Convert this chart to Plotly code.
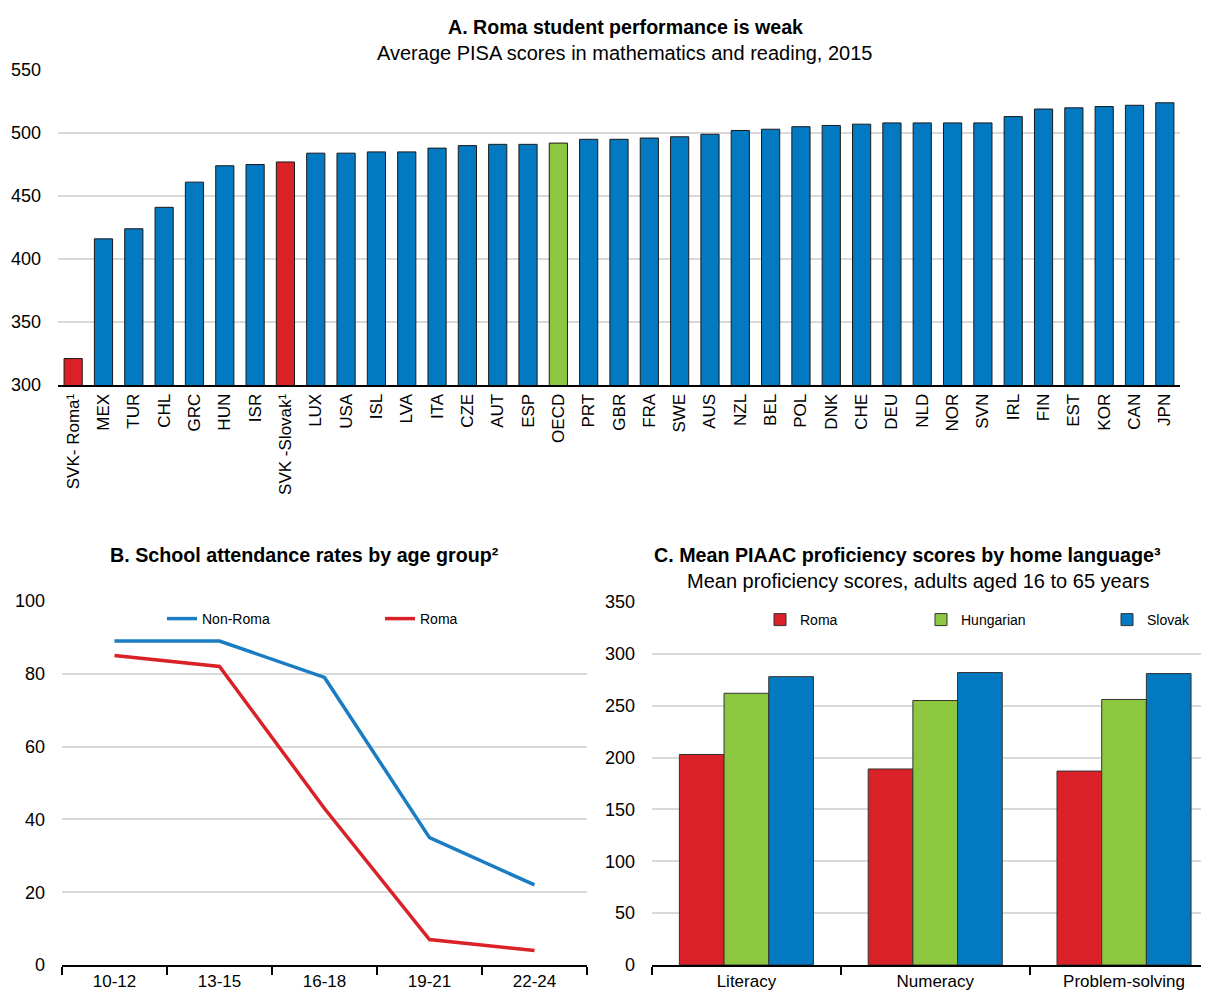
import plotly.graph_objects as go

# page body adds an 8px margin; lay out in reference pixel coords and shift
OFF = 8
W, H = 1209 - OFF, 992 - OFF
FONT = "Liberation Sans, Arial, sans-serif"

BLUE = "#0279C1"
RED = "#DA2128"
GREEN = "#8DC63F"
GRID = "#D9D9D9"

# Panel A
countries = ["SVK- Roma¹", "MEX", "TUR", "CHL", "GRC", "HUN", "ISR", "SVK -Slovak¹", "LUX", "USA",
             "ISL", "LVA", "ITA", "CZE", "AUT", "ESP", "OECD", "PRT", "GBR", "FRA", "SWE", "AUS",
             "NZL", "BEL", "POL", "DNK", "CHE", "DEU", "NLD", "NOR", "SVN", "IRL", "FIN", "EST",
             "KOR", "CAN", "JPN"]
pisa_scores = [321, 416, 424, 441, 461, 474, 475, 477, 484, 484,
               485, 485, 488, 490, 491, 491, 492, 495, 495, 496, 497, 499,
               502, 503, 505, 506, 507, 508, 508, 508, 508, 513, 519, 520,
               521, 522, 524]
pisa_colors = [RED if c.startswith("SVK") else GREEN if c == "OECD" else BLUE for c in countries]

# Panel B
age_groups = ["10-12", "13-15", "16-18", "19-21", "22-24"]
non_roma_att = [89, 89, 79, 35, 22]
roma_att = [85, 82, 43, 7, 4]

# Panel C
skills = ["Literacy", "Numeracy", "Problem-solving"]
piaac_roma = [203, 189, 187]
piaac_hungarian = [262, 255, 256]
piaac_slovak = [278, 282, 281]


def fx(a):
    return (a - OFF) / W


def fy(a):
    return 1 - (a - OFF) / H


def px_x(a, b):
    return [max(0.0, fx(a)), min(1.0, fx(b))]


def px_y(top, bottom):
    return [fy(bottom), fy(top)]


fig = go.Figure()

fig.add_trace(go.Bar(x=countries, y=pisa_scores, marker=dict(color=pisa_colors, line=dict(color="#1a1a1a", width=1)),
                     showlegend=False, xaxis="x", yaxis="y", width=0.6))

fig.add_trace(go.Scatter(x=age_groups, y=non_roma_att, mode="lines", name="Non-Roma",
                         line=dict(color="#1A7DC4", width=3.5), xaxis="x2", yaxis="y2", legend="legend"))
fig.add_trace(go.Scatter(x=age_groups, y=roma_att, mode="lines", name="Roma",
                         line=dict(color=RED, width=3.5), xaxis="x2", yaxis="y2", legend="legend2"))

for name, vals, col, lg in [("Roma", piaac_roma, RED, "legend3"), ("Hungarian", piaac_hungarian, GREEN, "legend4"),
                            ("Slovak", piaac_slovak, BLUE, "legend5")]:
    fig.add_trace(go.Bar(x=skills, y=vals, name=name, marker=dict(color=col, line=dict(color="#333333", width=1)),
                         xaxis="x3", yaxis="y3", legend=lg))

tickfont = dict(family=FONT, size=17, color="#000")
ytickfont = dict(family=FONT, size=18, color="#000")
common_y = dict(showgrid=True, gridcolor=GRID, gridwidth=2, zeroline=False, showline=False, ticks="",
                tickfont=ytickfont, ticklabelstandoff=16, automargin=False)
common_x = dict(showline=True, linecolor="#000", linewidth=2, automargin=False, type="category", showgrid=False)


def leg(xc, yc, iw=30):
    return dict(orientation="h", x=fx(xc), y=fy(yc), xanchor="left", yanchor="middle",
                font=dict(family=FONT, size=14, color="#000"), bgcolor="rgba(0,0,0,0)",
                itemwidth=iw, borderwidth=0)


fig.update_layout(
    width=W, height=H, margin=dict(l=0, r=0, t=0, b=0, autoexpand=False),
    paper_bgcolor="white", plot_bgcolor="white",
    font=dict(family=FONT, color="#000"),
    barmode="group", bargap=0.29, bargroupgap=0,
    xaxis=dict(domain=px_x(58, 1180), anchor="y", tickangle=-90, tickfont=tickfont, ticks="",
               range=[-0.5, len(countries) - 0.5], **common_x),
    yaxis=dict(domain=px_y(70, 385), anchor="x", range=[300, 550], dtick=50, **common_y),
    xaxis2=dict(domain=px_x(62, 587), anchor="y2",
                ticks="outside", tickson="boundaries", ticklen=8, tickwidth=2, tickcolor="#000",
                tickfont=tickfont, range=[-0.5, 4.5], **common_x),
    yaxis2=dict(domain=px_y(601, 965), anchor="x2", range=[0, 100], dtick=20, **common_y),
    xaxis3=dict(domain=px_x(652, 1209), anchor="y3",
                ticks="outside", tickson="boundaries", ticklen=8, tickwidth=2, tickcolor="#000",
                tickfont=tickfont, range=[-0.5, 2.45], **common_x),
    yaxis3=dict(domain=px_y(602, 965), anchor="x3", range=[0, 350], dtick=50, **common_y),
    legend=leg(162, 619),
    legend2=leg(380, 619),
    legend3=leg(760, 620),
    legend4=leg(921, 620),
    legend5=leg(1107, 620),
)

annots = [
    ("<b>A. Roma student performance is weak</b>", 625, 27, 19.6),
    ("Average PISA scores in mathematics and reading, 2015", 624, 53, 20),
    ("<b>B. School attendance rates by age group²</b>", 304, 555, 19.7),
    ("<b>C. Mean PIAAC proficiency scores by home language³</b>", 907, 555, 19.7),
    ("Mean proficiency scores, adults aged 16 to 65 years", 918, 581, 20),
]
for text, x, y, size in annots:
    fig.add_annotation(text=text, x=fx(x), y=fy(y), xref="paper", yref="paper",
                       xanchor="center", yanchor="middle", showarrow=False,
                       font=dict(family=FONT, size=size, color="#000"))

fig.write_html("out.html")
